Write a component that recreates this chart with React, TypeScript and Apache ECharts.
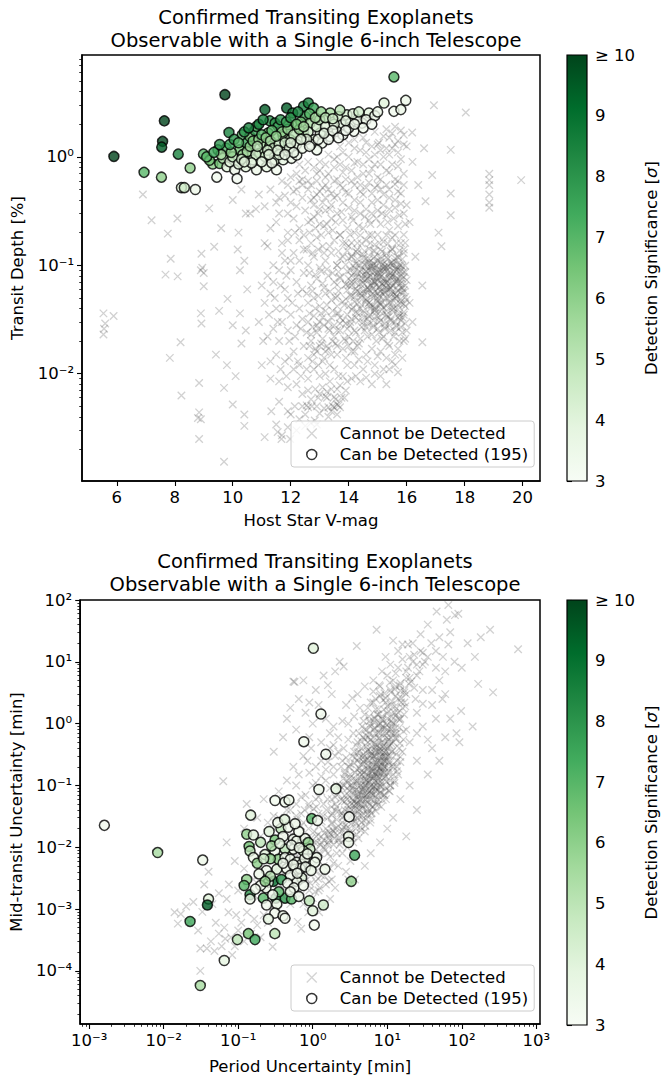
import React, { useEffect, useRef } from 'react';
import * as echarts from 'echarts';

const FONT = 'DejaVu Sans';
const GREENS = ['#f7fcf5', '#e5f5e0', '#c7e9c0', '#a1d99b', '#74c476', '#41ab5d', '#238b45', '#006d2c', '#00441b'];

const TITLE = 'Confirmed Transiting Exoplanets\nObservable with a Single 6-inch Telescope';
const LEG_NO = 'Cannot be Detected';
const LEG_YES = 'Can be Detected (195)';

const topXTicks = [6, 8, 10, 12, 14, 16, 18, 20];
const topYDecades = [-2, -1, 0];
const botXDecades = [-3, -2, -1, 0, 1, 2, 3];
const botYDecades = [-4, -3, -2, -1, 0, 1, 2];

// Top panel: detectable planets [V mag, depth %, significance]
const canTop = [
  [5.90,1.01,10],[6.94,0.72,7],[7.54,0.65,6],[7.64,2.15,10],[7.58,1.39,10],[7.55,1.23,9.5],[8.12,1.06,8.5],
  [8.53,0.79,6],[8.23,0.52,4],[8.33,0.52,4.5],[8.71,0.50,3.5],[9.45,0.65,3.3],[8.99,1.06,7],[9.73,3.75,10],
  [9.87,1.68,8.5],[9.49,1.16,7],[9.31,0.86,6],[9.55,0.87,6.5],[9.78,1.2,7],[9.66,0.97,5],[9.8,0.81,4],
  [10.07,0.76,3.5],[10.15,0.63,3.2],[10.24,1.16,6.5],[10.33,1.6,7],[10.47,1.34,7.5],[10.59,1.54,6.5],
  [10.76,1.75,7.5],[10.82,1.91,7],[10.59,1.01,5],[10.45,0.81,4],[10.7,0.94,4.5],[10.93,1.08,5],
  [11.11,2.73,9.5],[11.28,2.15,8],[11.46,2.05,8],[11.57,1.91,7.5],[11.22,1.66,6.5],[11.05,1.34,5.5],
  [11.28,1.25,5],[11.11,1.01,4.5],[10.82,0.76,3.5],[11.17,0.81,3.7],[11.46,0.94,4.5],[11.51,0.76,3.3],
  [11.86,2.82,9.5],[12.07,2.54,8.5],[11.92,1.98,7],[11.74,1.54,5.5],[11.98,1.44,5],[11.86,1.16,4.5],
  [11.74,0.94,3.8],[12.03,0.97,3.5],[12.21,1.04,3.3],[12.44,2.93,8.5],[12.61,3.14,8.5],[12.79,2.82,7.5],
  [12.5,2.36,7.5],[12.44,1.66,6],[12.67,2.05,5.5],[12.79,1.44,4],[13.02,1.66,3.8],[13.08,1.34,3.3],
  [12.9,1.16,3.4],[13.36,2.54,5.5],[13.65,2.36,4.5],[13.94,2.45,4.2],[13.77,1.98,3.8],[13.6,1.72,3.5],
  [13.36,1.54,3.3],[14.06,2.05,3.5],[14.18,1.72,3.2],[14.46,2.05,3.5],[14.7,2.54,4],[15.22,3.14,4],
  [15.56,2.63,3.3],[15.8,2.73,3.5],[15.97,3.32,3.5],[15.56,5.47,7],
  [9.2,0.93,6.5],[9.6,1.05,5.5],[9.9,0.9,4],[10.0,1.0,5],[10.2,0.86,4],[10.35,1.05,5.5],[10.5,1.12,5.5],
  [10.6,1.25,6],[10.7,1.4,6.5],[10.9,1.45,6],[11.0,1.6,7],[11.15,1.5,6],[11.3,1.4,5.5],[11.4,1.2,4.5],
  [11.6,1.3,4.5],[11.7,1.7,6],[11.8,1.35,4.5],[11.9,1.8,6],[12.1,1.6,5],[12.2,1.3,4],[12.3,1.8,5.5],
  [12.35,2.1,6.5],[12.6,1.7,4.5],[12.7,1.3,3.5],[12.9,1.9,4.5],[13.0,2.2,5],[13.2,1.9,4],[13.3,1.45,3.2],
  [13.5,2.0,4],[13.8,1.6,3.2],[14.0,1.85,3.3],[14.3,2.2,3.5],[14.6,2.2,3.5],[14.9,2.4,3.5],[10.8,1.05,4.5],
  [11.2,1.15,4.5],[11.6,1.05,4],[11.95,1.2,4],[12.4,1.2,3.5],[12.55,1.45,4],[10.3,0.95,4.5],[9.95,1.1,6],
  [10.65,0.88,3.8],[11.0,0.9,3.8],[11.35,0.88,3.5],[12.1,1.1,3.6]
];
const canTopBand = [
  [9.1,1.0,7],[9.35,1.1,7.5],[9.55,1.3,8],[9.9,1.3,7.5],[10.05,1.45,8],[10.2,1.35,7],[10.4,1.7,8],[10.55,1.85,8.5],
  [10.9,2.0,8.5],[11.05,2.2,8.5],[11.35,1.75,7],[11.5,1.55,6],[11.65,2.2,8],[11.85,2.1,7.5],[12.0,2.3,8],
  [12.2,2.0,6.5],[12.25,2.6,8.5],[12.45,1.9,5.5],[12.65,2.5,7],[12.85,2.3,5.5],[13.05,2.6,6],[13.2,2.3,5],
  [13.45,2.25,4.5],[13.7,2.7,5],[13.9,2.15,3.8],[14.15,2.5,4],[14.35,2.6,4.5],[14.5,1.85,3.3],[14.8,2.0,3.2],
  [15.0,2.6,3.5],[10.4,0.9,4],[10.85,1.25,5],[11.25,1.05,4],[11.55,1.15,4],[11.8,1.05,3.5],[12.0,1.35,4],
  [12.35,1.45,4],[12.65,1.25,3.3],[12.95,1.45,3.5],[13.15,1.65,3.8],[13.45,1.75,3.5],[13.65,1.5,3.1],
  [13.9,1.75,3.2],[14.2,2.0,3.3]
];

// Top panel: non-detectable planets [V mag, depth %]
const cannotTop = [
  [5.54,0.036],[5.89,0.034],[5.6,0.029],[5.54,0.023],[5.56,0.026],[8.09,0.27],[7.76,0.196],[7.86,0.115],
  [7.68,0.082],[8.1,0.079],[8.92,0.128],[8.9,0.09],[9.0,0.064],[9.36,0.148],[9.19,0.335],[10.0,0.4],
  [10.17,0.14],[10.25,0.09],[8.9,0.036],[8.92,0.029],[9.53,0.038],[9.82,0.049],[10.25,0.036],[10.0,0.028],
  [8.2,0.0195],[7.83,0.014],[9.42,0.015],[8.23,0.0063],[8.84,0.0082],[9.7,0.0074],[10.0,0.0052],[8.84,0.0044],
  [8.8,0.0039],[8.9,0.0038],[8.84,0.0025],[9.7,0.00154],[10.4,0.0042],[10.4,0.0033],[8.95,0.095],[9.0,0.085],
  [10.5,0.06],[10.4,0.11],[9.6,0.22],[10.3,0.5],[10.45,0.3],[10.2,0.2],[7.2,0.26],[6.9,0.45],[9.8,0.012],
  [10.3,0.019],[10.45,0.025],[10.1,0.0095],
  [11.1,0.0026],[11.68,0.0025],[11.98,0.0025],[11.5,0.0034],[11.55,0.0029],[11.7,0.0027],[11.33,0.0045],
  [10.6,0.3],[10.8,0.33],[11.1,0.35],[11.1,0.16],[11.2,0.15],[11.7,0.16],[10.9,0.45],[11.3,0.5],[11.6,0.42],
  [11.9,0.55],[12.1,0.48],[11.5,0.25],[11.9,0.3],[12.2,0.35],[12.4,0.42],[11.0,0.065],[11.2,0.08],[11.4,0.07],
  [11.1,0.045],[11.3,0.055],[11.5,0.04],[11.8,0.06],[11.9,0.05],[11.6,0.09],[11.8,0.11],[12.0,0.09],[12.1,0.13],
  [12.3,0.11],[12.2,0.07],[12.4,0.06],[11.2,0.022],[11.4,0.026],[11.6,0.02],[11.7,0.03],[11.9,0.025],[12.0,0.035],
  [12.2,0.028],[12.3,0.04],[12.4,0.032],[11.5,0.015],[11.8,0.013],[12.1,0.016],[12.3,0.012],[12.45,0.018],
  [11.0,0.012],[11.3,0.009],[11.6,0.0085],[11.9,0.0075],[12.2,0.008],[12.4,0.0065],[11.6,0.0055],[11.9,0.0045],
  [12.14,0.005],[12.4,0.005],[12.73,0.005],[12.55,0.0051],[12.83,0.0037],[12.7,0.0035],[12.5,0.0042],
  [12.3,0.0038],[12.0,0.0042],
  [13.3,0.0049],[13.5,0.0049],[13.7,0.0049],[13.4,0.0045],[13.6,0.0052],[13.25,0.006],[13.5,0.0061],
  [13.75,0.006],[13.0,0.0065],[13.1,0.0075],[13.4,0.0072],[13.7,0.0078],[13.9,0.007],[12.6,0.009],[12.8,0.011],
  [13.0,0.0095],[13.2,0.01],[13.5,0.011],[13.8,0.0095],[12.6,0.014],[12.9,0.016],[13.1,0.013],[13.3,0.017],
  [13.6,0.015],[13.9,0.014],[12.7,0.02],[12.9,0.024],[13.1,0.021],[13.3,0.026],[13.5,0.022],[13.7,0.025],
  [13.9,0.02],[12.6,0.03],[12.8,0.034],[13.0,0.03],[13.2,0.038],[13.4,0.033],[13.6,0.036],[13.8,0.031],
  [12.6,0.045],[12.8,0.05],[13.0,0.042],[13.2,0.055],[13.4,0.048],[13.6,0.052],[13.8,0.046],[12.7,0.065],
  [12.9,0.075],[13.1,0.068],[13.3,0.08],[13.5,0.07],[13.7,0.078],[13.9,0.066],[12.6,0.1],[12.8,0.12],
  [13.0,0.095],[13.2,0.11],[13.4,0.13],[13.6,0.1],[13.8,0.12],[12.7,0.16],[12.9,0.18],[13.1,0.15],[13.3,0.2],
  [13.5,0.17],[13.7,0.19],[13.9,0.16],[12.6,0.25],[12.8,0.28],[13.0,0.24],[13.2,0.32],[13.4,0.27],[13.6,0.3],
  [13.8,0.26],[12.7,0.4],[12.9,0.45],[13.1,0.38],[13.3,0.5],[13.5,0.42],[13.7,0.55],[13.9,0.47],[12.6,0.6],
  [12.9,0.7],[13.2,0.65],[13.5,0.8],[13.8,0.72],[13.0,0.9],[13.6,1.0],
  [14.1,0.009],[14.4,0.0085],[14.8,0.008],[15.3,0.008],[15.7,0.0103],[14.2,0.012],[14.5,0.011],[14.9,0.012],
  [15.2,0.011],[15.5,0.013],[14.1,0.016],[14.3,0.018],[14.6,0.015],[14.8,0.017],[15.1,0.016],[15.4,0.018],
  [15.7,0.017],[15.9,0.02],[14.0,0.022],[14.2,0.025],[14.4,0.021],[14.6,0.027],[14.8,0.023],[15.0,0.026],
  [15.2,0.022],[15.4,0.028],[15.6,0.024],[15.8,0.027],[16.0,0.025],[14.1,0.032],[14.3,0.036],[14.5,0.03],
  [14.7,0.034],[14.9,0.038],[15.1,0.031],[15.3,0.035],[15.5,0.039],[15.7,0.033],[15.9,0.037],[14.0,0.042],
  [14.2,0.046],[14.4,0.04],[14.6,0.048],[14.8,0.043],[15.0,0.047],[15.2,0.041],[15.4,0.045],[15.6,0.049],
  [15.8,0.044],[16.0,0.048],[14.1,0.052],[14.3,0.058],[14.5,0.055],[14.7,0.06],[14.9,0.053],[15.1,0.057],
  [15.3,0.062],[15.5,0.054],[15.7,0.059],[15.9,0.056],[14.0,0.065],[14.2,0.07],[14.4,0.067],[14.6,0.074],
  [14.8,0.069],[15.0,0.072],[15.2,0.066],[15.4,0.075],[15.6,0.07],[15.8,0.068],[16.0,0.073],[14.1,0.08],
  [14.3,0.085],[14.5,0.082],[14.7,0.09],[14.9,0.086],[15.1,0.083],[15.3,0.088],[15.5,0.081],[15.7,0.092],
  [15.9,0.087],[14.2,0.095],[14.4,0.1],[14.6,0.105],[14.8,0.098],[15.0,0.11],[15.2,0.103],[15.4,0.097],
  [15.6,0.108],[15.8,0.1],[14.1,0.12],[14.3,0.13],[14.5,0.125],[14.7,0.115],[14.9,0.135],[15.1,0.12],
  [15.3,0.128],[15.5,0.14],[15.7,0.118],[15.9,0.13],[14.0,0.15],[14.3,0.16],[14.6,0.17],[14.9,0.155],
  [15.2,0.165],[15.5,0.18],[15.8,0.16],[14.2,0.2],[14.5,0.22],[14.8,0.19],[15.1,0.24],[15.4,0.21],[15.7,0.23],
  [14.1,0.28],[14.4,0.3],[14.7,0.26],[15.0,0.32],[15.3,0.29],[15.6,0.34],[15.9,0.3],[14.2,0.4],[14.5,0.45],
  [14.8,0.38],[15.1,0.5],[15.4,0.42],[15.7,0.48],[14.1,0.6],[14.4,0.55],[14.7,0.7],[15.0,0.65],[15.3,0.75],
  [15.6,0.62],[15.9,0.7],[14.3,0.9],[14.6,1.1],[14.9,0.85],[15.0,1.3],[15.2,1.0],[15.5,1.2],[15.8,0.95],
  [15.4,1.5],[15.7,1.4],[14.8,1.25],[15.05,1.35],
  [14.6,0.06],[14.8,0.065],[15.0,0.055],[15.2,0.075],[15.4,0.06],[15.6,0.08],[14.7,0.045],[14.9,0.07],
  [15.1,0.09],[15.3,0.05],[15.5,0.065],[15.7,0.075],[14.5,0.075],[14.4,0.055],[15.0,0.085],[15.2,0.095],
  [14.6,0.088],[15.8,0.062],[15.5,0.1],[14.9,0.04],[15.1,0.045],[15.35,0.07],[14.75,0.08],[15.65,0.052],
  [15.45,0.085],[14.85,0.1],[15.25,0.058],[15.05,0.063],[14.95,0.078],[15.15,0.068],
  [16.94,3.0],[18.04,2.57],[16.19,1.68],[16.6,1.2],[17.52,1.16],[16.88,0.68],[18.85,0.7],[18.85,0.61],
  [18.85,0.55],[18.85,0.45],[18.85,0.38],[18.85,0.34],[19.95,0.61],[17.52,0.46],[17.52,0.29],[16.65,0.39],
  [17.1,0.2],[17.2,0.15],[16.54,0.065],[16.54,0.0195],[16.2,0.9],[16.4,0.55],[16.1,0.25],[16.3,0.12],
  [16.1,0.045],[16.2,0.03],
  [14.5,1.5],[14.9,1.7],[15.3,1.8],[15.6,1.9],[15.9,1.6],[14.2,1.2],[13.8,1.1],[13.5,0.6],[13.2,0.85],
  [12.8,0.8],[12.5,0.75],[12.3,0.6],[12.0,0.65],[11.7,0.6],[14.0,1.35],[16.0,1.25]
];
const cannotTopCore = [
  [13.55,0.019],[13.85,0.021],[14.15,0.02],[14.35,0.019],[14.65,0.022],[14.95,0.02],[15.15,0.021],[15.35,0.019],
  [15.55,0.022],[15.75,0.02],[15.95,0.021],[13.6,0.025],[13.95,0.026],[14.25,0.024],[14.55,0.025],[14.85,0.027],
  [15.05,0.024],[15.25,0.026],[15.45,0.025],[15.65,0.027],[15.85,0.024],[13.7,0.029],[14.05,0.03],[14.35,0.031],
  [14.65,0.029],[14.85,0.031],[15.05,0.03],[15.25,0.029],[15.45,0.031],[15.6,0.03],[15.8,0.031],[15.95,0.029],
  [13.65,0.036],[13.95,0.035],[14.25,0.037],[14.5,0.036],[14.75,0.035],[14.95,0.037],[15.15,0.036],[15.35,0.034],
  [15.55,0.037],[15.75,0.036],[15.9,0.035],[13.6,0.042],[13.85,0.043],[14.15,0.041],[14.45,0.043],[14.7,0.042],
  [14.9,0.041],[15.1,0.043],[15.3,0.042],[15.5,0.041],[15.7,0.043],[15.95,0.042],[13.55,0.05],[13.9,0.049],
  [14.2,0.051],[14.4,0.05],[14.6,0.049],[14.8,0.051],[15.0,0.05],[15.2,0.049],[15.4,0.051],[15.6,0.05],
  [15.8,0.049],[15.95,0.051],[13.65,0.058],[13.95,0.059],[14.25,0.057],[14.5,0.058],[14.7,0.059],[14.9,0.057],
  [15.1,0.058],[15.3,0.059],[15.5,0.057],[15.7,0.058],[15.9,0.059],[13.6,0.066],[13.9,0.067],[14.1,0.065],
  [14.35,0.066],[14.55,0.067],[14.75,0.065],[14.95,0.066],[15.15,0.067],[15.35,0.065],[15.55,0.066],[15.75,0.067],
  [15.95,0.065],[13.7,0.076],[14.0,0.075],[14.25,0.077],[14.45,0.076],[14.65,0.075],[14.85,0.077],[15.05,0.076],
  [15.25,0.075],[15.45,0.077],[15.65,0.076],[15.85,0.075],[13.65,0.087],[13.95,0.088],[14.2,0.086],[14.4,0.087],
  [14.6,0.088],[14.8,0.086],[15.0,0.087],[15.2,0.088],[15.4,0.086],[15.6,0.087],[15.8,0.088],[15.95,0.086],
  [13.6,0.1],[13.9,0.101],[14.15,0.099],[14.35,0.1],[14.55,0.101],[14.75,0.099],[14.95,0.1],[15.15,0.101],
  [15.35,0.099],[15.55,0.1],[15.75,0.101],[15.95,0.099],[13.7,0.115],[14.0,0.116],[14.3,0.114],[14.6,0.115],
  [14.85,0.116],[15.1,0.114],[15.35,0.115],[15.6,0.116],[15.85,0.114],[13.65,0.135],[13.95,0.136],[14.25,0.134],
  [14.55,0.135],[14.85,0.136],[15.15,0.134],[15.45,0.135],[15.75,0.136],[13.8,0.16],[14.1,0.161],[14.45,0.159],
  [14.75,0.16],[15.05,0.161],[15.35,0.159],[15.65,0.16],[15.95,0.161],[13.7,0.19],[14.05,0.191],[14.4,0.189],
  [14.7,0.19],[15.0,0.191],[15.3,0.189],[15.6,0.19],[15.9,0.191],
  [14.55,0.033],[14.75,0.04],[14.95,0.034],[15.15,0.039],[15.35,0.033],[15.55,0.04],[15.75,0.034],[14.6,0.046],
  [14.8,0.054],[15.0,0.046],[15.2,0.054],[15.4,0.046],[15.6,0.054],[15.8,0.046],[14.65,0.062],[14.85,0.071],
  [15.05,0.062],[15.25,0.071],[15.45,0.062],[15.65,0.071],[15.85,0.062],[14.6,0.081],[14.8,0.093],[15.0,0.081],
  [15.2,0.093],[15.4,0.081],[15.6,0.093],[15.8,0.081],[14.7,0.107],[14.9,0.095],[15.1,0.107],[15.3,0.095],
  [15.5,0.107],[15.7,0.095]
];
const cannotTopDense = [
  [14.05,0.028],[14.25,0.033],[14.45,0.027],[14.65,0.032],[14.85,0.028],[15.05,0.033],[15.25,0.027],[15.45,0.032],
  [15.65,0.028],[15.85,0.033],[14.1,0.039],[14.3,0.044],[14.5,0.038],[14.7,0.045],[14.9,0.039],[15.1,0.044],
  [15.3,0.038],[15.5,0.045],[15.7,0.039],[15.9,0.044],[14.05,0.053],[14.25,0.061],[14.45,0.052],[14.65,0.056],
  [14.85,0.061],[15.05,0.052],[15.25,0.056],[15.45,0.061],[15.65,0.052],[15.85,0.056],[14.1,0.07],[14.3,0.078],
  [14.5,0.069],[14.7,0.079],[14.9,0.071],[15.1,0.078],[15.3,0.069],[15.5,0.079],[15.7,0.071],[15.9,0.078],
  [14.05,0.09],[14.25,0.104],[14.45,0.091],[14.65,0.097],[14.85,0.104],[15.05,0.091],[15.25,0.098],[15.45,0.104],
  [15.65,0.091],[15.85,0.097],[14.1,0.12],[14.3,0.14],[14.5,0.118],[14.7,0.142],[14.9,0.12],[15.1,0.14],
  [15.3,0.118],[15.5,0.142],[15.7,0.12],[15.9,0.14],
  [12.45,0.19],[12.7,0.26],[12.95,0.3],[13.15,0.23],[13.35,0.33],[13.55,0.25],[13.75,0.31],[13.95,0.22],
  [14.15,0.26],[14.35,0.23],[14.55,0.28],[14.75,0.24],[14.95,0.27],[15.15,0.3],[15.35,0.25],[15.55,0.27],
  [15.75,0.29],[15.95,0.24],[12.8,0.42],[13.0,0.48],[13.2,0.55],[13.4,0.46],[13.6,0.62],[13.8,0.52],[14.0,0.46],
  [14.2,0.55],[14.4,0.48],[14.6,0.52],[14.8,0.46],[15.0,0.55],[15.2,0.45],[15.4,0.5],[15.6,0.56],[15.8,0.46],
  [13.9,0.8],[14.2,0.88],[14.5,0.7],[14.8,0.78],[15.1,0.85],[15.4,0.72],[15.7,0.82],[15.3,1.2],[14.9,1.05],
  [15.6,1.3],[12.7,0.023],[12.9,0.028],[13.1,0.033],[13.3,0.03],[13.5,0.028],[13.7,0.033],[13.9,0.029],
  [12.8,0.015],[13.0,0.018],[13.2,0.016],[13.4,0.015],[13.6,0.018],[13.8,0.017],[14.0,0.018],[14.2,0.016]
];
const cannotTopCloud = [
  [12.55,0.011],[12.75,0.013],[12.95,0.012],[13.15,0.014],[13.35,0.012],[12.65,0.018],[12.85,0.017],[13.05,0.019],
  [13.25,0.018],[13.45,0.02],[12.55,0.024],[12.75,0.027],[12.95,0.026],[13.15,0.028],[13.35,0.025],[12.65,0.036],
  [12.85,0.04],[13.05,0.036],[13.25,0.043],[13.45,0.038],[12.55,0.055],[12.75,0.058],[12.95,0.052],[13.15,0.062],
  [13.35,0.057],[12.65,0.085],[12.85,0.082],[13.05,0.088],[13.25,0.092],[13.45,0.085],[12.55,0.14],[12.75,0.13],
  [12.95,0.14],[13.15,0.13],[13.35,0.15],[12.65,0.2],[12.85,0.22],[13.05,0.19],[13.25,0.24],[13.45,0.21],
  [11.3,0.22],[11.6,0.3],[11.9,0.2],[12.1,0.27],[12.3,0.22],[12.5,0.32],[11.5,0.38],[11.8,0.44],[12.0,0.38],
  [12.2,0.5],[12.4,0.55],[12.6,0.5],[12.8,0.36],[13.0,0.33],[13.2,0.42],[13.4,0.36],[13.6,0.44],[13.8,0.38],
  [14.0,0.34],[14.2,0.32],[14.4,0.38],[14.6,0.33],[14.8,0.3],[15.0,0.4],[15.2,0.36],[15.4,0.33],[15.6,0.4],
  [15.8,0.37],[16.0,0.36],[12.2,0.7],[12.4,0.62],[12.7,0.55],[12.9,0.6],[13.1,0.52],[13.3,0.7],[13.5,0.95],
  [13.7,0.85],[13.9,0.62],[14.1,0.75],[14.3,0.65],[14.5,0.85],[14.7,0.58],[14.9,0.52],[15.1,0.62],[15.3,0.55],
  [15.5,0.85],[15.7,0.6],[15.9,0.55],[14.0,1.0],[14.4,1.15],[14.7,0.95],[15.1,1.15],[15.4,1.05],[15.7,1.1],
  [15.9,1.3],[13.3,1.05],[13.7,1.25],[14.2,1.45],[14.6,1.35],[15.2,1.55],[15.5,1.65],[15.8,1.75],[13.0,0.75],
  [12.6,0.9],[12.3,0.85],
  [12.6,0.0049],[12.9,0.005],[13.15,0.0048],[13.45,0.005],[13.65,0.0051],[12.7,0.0058],[12.95,0.006],[13.2,0.0062],
  [13.55,0.0058],[13.85,0.006],[12.6,0.007],[12.85,0.0072],[13.25,0.0068],[13.6,0.0072],[13.95,0.0085],[14.25,0.0095],
  [14.6,0.0092],[14.9,0.01],[15.1,0.0095],[15.4,0.011],[15.6,0.012],[15.85,0.014],[14.35,0.0135],[14.65,0.013],
  [15.0,0.0145],[15.3,0.014],[15.6,0.015],[13.95,0.012],[13.65,0.0095],[13.35,0.0085],[12.35,0.0095],[12.1,0.011],
  [11.85,0.0095],[12.5,0.0033],[12.9,0.0034],[13.3,0.004],[13.6,0.0042],[12.2,0.003],[11.9,0.0032],[13.0,0.0043],
  [10.9,0.03],[11.05,0.02],[11.25,0.035],[11.45,0.05],[11.65,0.065],[11.85,0.08],[12.05,0.045],[12.25,0.055],
  [12.45,0.085],[11.75,0.04],[11.55,0.03],[11.95,0.02],[12.15,0.022],[12.35,0.026],[11.4,0.1],[11.7,0.13],
  [12.0,0.11],[12.3,0.17],[12.45,0.14],[11.9,0.17],[12.15,0.2],[11.3,0.013],[11.65,0.011],[11.95,0.014],[12.25,0.013]
];

// Bottom panel: detectable planets [period unc. min, mid-transit unc. min, significance]
const canBot = [
  [1.02,16.6,4],[1.29,1.43,3.3],[0.76,0.51,3.3],[1.5,0.32,3.3],[1.21,0.086,3.3],[2.05,0.088,3.8],
  [3.09,0.031,3.0],[3.03,0.0149,3.5],[3.03,0.0119,3.5],[3.65,0.0074,7.5],[3.29,0.0028,6],[0.312,0.057,3.3],
  [0.425,0.054,3.3],[0.48,0.058,3.5],[0.147,0.033,4],[0.97,0.029,7],[1.16,0.027,3.3],[0.13,0.0162,6],
  [0.16,0.0158,4],[0.375,0.02,5],[0.312,0.0131,6.5],[0.14,0.0103,6.5],[0.144,0.0087,5],[0.229,0.0076,4],
  [0.16,0.0068,3.5],[0.4,0.0149,3.3],[0.55,0.0135,3.3],[0.61,0.0126,3.5],[0.79,0.0138,3.3],[0.87,0.0119,6],
  [0.92,0.0093,4.5],[0.75,0.0087,4.5],[0.55,0.0093,3.3],[0.425,0.0093,5],[0.31,0.0087,3.3],[0.345,0.0064,6],
  [0.425,0.0068,3.3],[0.5,0.0064,3.3],[0.61,0.0057,3.5],[0.71,0.0053,3.3],[1.13,0.0068,3.5],[1.07,0.0057,3.3],
  [1.46,0.0044,3.5],[0.33,0.0044,4],[0.45,0.0045,3.3],[0.58,0.0044,3.3],[0.71,0.0032,4],[0.61,0.0028,3.5],
  [0.5,0.0035,3.3],[0.24,0.0042,3.3],[0.19,0.0037,3.5],[0.13,0.003,6],[0.296,0.0028,9],[0.38,0.003,8],
  [0.254,0.0027,3.3],[0.236,0.0022,3.5],[0.144,0.0017,8],[0.144,0.00145,3.5],[0.217,0.0015,7],[0.32,0.0015,8],
  [0.425,0.0015,8],[0.52,0.00145,7],[0.24,0.00116,3.3],[0.33,0.0012,3.5],[0.9,0.00136,5],[1.0,0.00094,4],
  [1.39,0.00116,4.5],[0.31,0.00086,3.3],[0.4,0.00078,3.5],[0.254,0.00069,3.8],[0.425,0.00071,3.3],
  [1.05,0.00055,3.3],[0.31,0.0004,5],[0.137,0.0004,6.5],[0.168,0.00032,7.5],[0.0975,0.00032,5],
  [0.065,0.000147,3.8],[0.031,0.000058,5.5],[0.04,0.00145,4],[0.0386,0.00116,9.5],[0.0226,0.00063,7.5],
  [0.0334,0.0062,3.5],[0.0083,0.0082,5.5],[0.0016,0.0226,3.3],[0.2,0.0024,3.3],[0.27,0.0065,6],
  [0.68,0.0045,3.3],[0.78,0.0065,3.5]
];
const canBotCluster = [
  [0.2,0.012,5],[0.26,0.018,4],[0.34,0.025,3.5],[0.47,0.021,3.3],[0.65,0.018,3.3],[0.58,0.024,3.5],[0.42,0.028,4],
  [0.28,0.0105,5.5],[0.36,0.0115,3.8],[0.52,0.0108,3.3],[0.66,0.0098,3.5],[0.85,0.0078,3.3],[0.18,0.0055,6],
  [0.22,0.0065,4.5],[0.4,0.0055,3.3],[0.55,0.0052,3.5],[0.8,0.0048,3.3],[0.95,0.0042,3.5],[0.27,0.0034,5],
  [0.46,0.0026,3.3],[0.56,0.0022,3.3],[0.35,0.0019,7],[0.5,0.0019,3.5],[0.65,0.0016,3.3],[0.75,0.0024,3.3],
  [0.12,0.0024,7],[0.17,0.0021,3.3],[0.29,0.0017,3.3],[0.23,0.0028,6],[0.62,0.0038,3.3]
];

// Bottom panel: non-detectable planets [period unc. min, mid-transit unc. min]
const cannotBot = [
  [0.014,8.9e-4],[0.0155,5.8e-4],[0.017,8.3e-4],[0.022,6.2e-4],[0.029,4.5e-4],[0.031,2.3e-4],[0.031,1e-4],
  [0.043,3e-4],[0.038,2.3e-4],[0.048,2.1e-4],[0.067,3.3e-4],[0.06,2.5e-4],[0.083,1.8e-4],[0.07,1.45e-3],
  [0.074,8.9e-4],[0.094,8e-4],[0.131,8.9e-4],[0.146,1.45e-3],[0.164,6.9e-4],[0.29,2.45e-4],[0.02,1.1e-3],
  [0.025,1.3e-3],[0.033,9e-4],[0.045,1.2e-3],[0.05,6e-4],[0.055,4e-4],[0.065,5e-4],[0.08,3.5e-4],[0.09,2.5e-4],
  [0.1,4.5e-4],[0.11,6e-4],[0.12,3e-4],[0.15,4e-4],[0.18,5.5e-4],[0.2,3.5e-4],[0.22,8e-4],[0.25,6e-4],
  [0.063,0.117],[0.04,0.004],[0.09,0.006],[0.12,0.0045],[0.16,0.003],[0.1,0.002],[0.13,0.0022],[0.035,0.0025],
  [0.055,0.0018],[0.075,0.0025],[0.18,0.0015],[0.25,0.0018],[0.28,0.0012],[0.07,0.012],[0.15,0.01],[0.2,0.015],
  [0.25,0.025],[0.12,0.02],[0.18,0.03],[0.22,0.06],[0.13,0.05],
  [0.3,0.0015],[0.35,0.001],[0.4,0.0022],[0.45,0.0014],[0.5,0.003],[0.55,0.0018],[0.63,6.2e-4],[0.7,4.8e-4],
  [0.87,8.9e-4],[0.6,0.0025],[0.65,0.004],[0.75,0.0012],[0.8,0.0032],[0.9,0.002],[1.0,0.0015],[1.1,0.0028],
  [1.22,8.9e-4],[1.37,1.1e-3],[1.2,0.002],[1.3,0.0035],[1.5,0.0025],[1.71,1.45e-3],[1.8,0.003],[2.0,0.0022],
  [0.3,0.004],[0.35,0.006],[0.4,0.005],[0.45,0.008],[0.5,0.006],[0.55,0.01],[0.6,0.007],[0.65,0.012],[0.7,0.009],
  [0.75,0.015],[0.8,0.006],[0.85,0.011],[0.9,0.008],[0.95,0.014],[1.0,0.005],[1.05,0.018],[1.1,0.009],
  [1.15,0.012],[1.2,0.006],[1.3,0.015],[1.4,0.01],[1.5,0.02],[1.6,0.008],[1.7,0.013],[1.8,0.025],[1.9,0.011],
  [2.0,0.017],[0.3,0.02],[0.35,0.03],[0.4,0.015],[0.45,0.04],[0.5,0.025],[0.6,0.05],[0.7,0.035],[0.8,0.07],
  [0.9,0.045],[1.0,0.1],[1.1,0.06],[1.2,0.035],[1.3,0.08],[1.4,0.05],[1.5,0.12],[1.6,0.03],[1.7,0.09],
  [1.8,0.06],[1.9,0.15],[2.0,0.04],[0.35,0.08],[0.45,0.12],[0.55,0.2],[0.65,0.15],[0.75,0.3],[0.85,0.25],
  [0.95,0.4],[1.1,0.2],[1.3,0.5],[1.5,0.3],[1.7,0.7],[1.9,0.45],[0.57,4.7],[0.55,4.8],[0.45,1.2],[0.6,0.8],
  [0.8,1.5],[1.0,1.0],[1.2,2.0],[1.5,1.2],[1.8,3.0],[0.9,0.6],[1.3,0.012],[0.55,0.014],[0.7,0.022],
  [0.95,0.03],[1.2,0.022],[1.45,0.017],[1.75,0.016],
  [2.2,0.005],[2.5,0.008],[2.8,0.004],[3.0,0.003],[3.7,0.003],[3.2,0.006],[2.4,0.012],[2.6,0.015],[2.9,0.01],
  [3.2,0.018],[3.5,0.012],[3.8,0.02],[4.1,0.014],[4.5,0.025],[5.0,0.018],[2.2,0.022],[2.5,0.03],[2.8,0.02],
  [3.1,0.035],[3.4,0.025],[3.7,0.04],[4.0,0.03],[4.4,0.05],[4.8,0.035],[5.3,0.06],[5.8,0.04],[6.3,0.07],
  [7.0,0.05],[2.1,0.045],[2.4,0.06],[2.7,0.04],[3.0,0.07],[3.3,0.05],[3.6,0.08],[4.0,0.06],[4.4,0.1],
  [4.8,0.07],[5.3,0.12],[5.8,0.08],[6.4,0.14],[7.0,0.09],[7.7,0.16],[8.5,0.11],[9.3,0.2],[2.3,0.1],[2.6,0.13],
  [2.9,0.09],[3.2,0.15],[3.5,0.11],[3.9,0.18],[4.3,0.12],[4.7,0.22],[5.2,0.15],[5.7,0.25],[6.2,0.17],[6.8,0.3],
  [7.5,0.2],[8.2,0.35],[9.0,0.25],[10.0,0.4],[11.0,0.3],[12.0,0.5],[2.4,0.2],[2.8,0.28],[3.2,0.22],[3.6,0.35],
  [4.0,0.25],[4.5,0.4],[5.0,0.3],[5.5,0.5],[6.0,0.35],[6.7,0.6],[7.4,0.45],[8.1,0.7],[9.0,0.5],[10.0,0.8],
  [11.0,0.6],[12.0,1.0],[13.5,0.7],[15.0,1.2],[2.6,0.4],[3.0,0.55],[3.5,0.7],[4.0,0.5],[4.6,0.9],[5.2,0.65],
  [5.8,1.1],[6.5,0.8],[7.3,1.4],[8.1,1.0],[9.0,1.7],[10.0,1.2],[11.2,2.0],[12.5,1.5],[14.0,2.5],[16.0,1.8],
  [18.0,3.0],[3.0,1.0],[3.6,1.3],[4.3,1.8],[5.0,1.4],[6.0,2.2],[7.0,1.7],[8.0,2.8],[9.5,2.2],[11.0,3.5],
  [13.0,2.8],[15.0,4.5],[17.0,3.5],[20.0,5.5],[4.0,3.0],[5.0,4.0],[6.5,5.0],[8.0,4.0],[10.0,6.0],[12.0,5.0],
  [14.0,8.0],[18.0,7.0],[22.0,10.0],[2.6,8.4],[3.9,18],[7.2,33],[12,22],[16,19],[19,19],[39,20],[66,19],
  [56,12],[66,83],[46,65],[63,48],[81,57],[240,33],[570,16],[166,4.4],[263,3.2],[98,1.6],[140,0.9],[85,0.7],
  [93,0.5],[25,6],[30,9],[35,12],[28,15],[45,8],[50,5],[20,12],[24,2.5],[30,3.5],[40,2],[60,3],[70,1.2],
  [100,8],[150,12],[25,1.5],[18,0.8],[20,0.5],[30,0.9],[40,0.4],[50,0.25],[60,0.6],[25,0.25],[35,0.15],
  [20,0.1],[15,0.06],[25,0.04],[12,0.03],[18,0.015],[10,0.02],[8,0.012],[6,0.008],[5,0.005],[14,0.15],
  [16,0.35],[11,0.1],[9,0.07],
  [3.5,0.03],[4.2,0.04],[5.0,0.05],[5.5,0.035],[6.0,0.06],[6.5,0.045],[7.0,0.08],[7.5,0.06],[8.0,0.1],
  [8.5,0.075],[9.0,0.13],[9.5,0.09],[10.0,0.16],[11.0,0.12],[12.0,0.2],[4.5,0.07],[5.0,0.09],[5.5,0.11],
  [6.0,0.1],[6.5,0.13],[7.0,0.15],[7.5,0.12],[8.0,0.18],[8.5,0.22],[9.0,0.16],[9.5,0.28],[10.5,0.22],
  [11.5,0.35],[3.8,0.05],[4.2,0.08],[4.6,0.06],[5.1,0.1],[5.6,0.075],[6.1,0.13],[6.6,0.095],[7.1,0.2],
  [7.6,0.14],[8.1,0.25],[8.6,0.17],[9.1,0.3],[3.3,0.04],[3.9,0.065],[4.9,0.13],[5.4,0.19],[6.9,0.26],
  [7.9,0.4],[5.9,0.3],[6.4,0.22],[7.2,0.35],[4.3,0.16],[3.4,0.09],[2.9,0.06],[2.5,0.025],[4.7,0.045],
  [5.2,0.028],[6.2,0.036],[7.3,0.055],[8.3,0.045],[9.6,0.06],[10.8,0.08],[12.5,0.12],[13.5,0.25],[14.5,0.4],
  [13.0,0.6],[11.5,0.9],[10.5,0.55],[9.2,0.85],[8.5,1.3],[7.8,0.95],[6.8,1.2],[6.0,0.9],[5.3,0.8],[4.7,0.6],
  [4.2,0.35],[3.7,0.28],[3.1,0.2],[2.7,0.16]
];
const cannotBotCore = [
  [1.6,0.016],[2.0,0.02],[2.4,0.018],[2.8,0.023],[3.3,0.017],[3.8,0.024],[4.4,0.019],[5.1,0.022],[5.9,0.025],
  [1.8,0.024],[2.6,0.021],[1.8,0.033],[2.2,0.038],[2.6,0.032],[3.0,0.04],[3.5,0.034],[4.0,0.038],[4.6,0.032],
  [5.3,0.04],[6.1,0.035],[7.0,0.039],[2.4,0.036],[3.2,0.03],[2.0,0.05],[2.5,0.056],[2.9,0.048],[3.4,0.058],
  [3.9,0.052],[4.5,0.047],[5.1,0.058],[5.8,0.05],[6.7,0.056],[7.6,0.049],[8.7,0.058],[3.7,0.045],[2.2,0.072],
  [2.7,0.068],[3.1,0.082],[3.6,0.074],[4.1,0.066],[4.7,0.08],[5.4,0.072],[6.1,0.084],[7.0,0.068],[8.0,0.078],
  [9.2,0.07],[10.5,0.082],[2.4,0.095],[2.9,0.11],[3.4,0.1],[3.9,0.115],[4.5,0.092],[5.1,0.105],[5.8,0.118],
  [6.6,0.098],[7.5,0.11],[8.5,0.095],[9.7,0.115],[11.0,0.1],[12.5,0.11],[2.7,0.15],[3.2,0.135],[3.7,0.16],
  [4.3,0.14],[4.9,0.165],[5.6,0.145],[6.4,0.17],[7.2,0.14],[8.2,0.155],[9.3,0.135],[10.5,0.165],[12.0,0.15],
  [13.5,0.17],[3.0,0.2],[3.6,0.23],[4.2,0.19],[4.8,0.24],[5.5,0.21],[6.3,0.185],[7.2,0.23],[8.2,0.2],[9.3,0.245],
  [10.5,0.19],[12.0,0.22],[13.5,0.2],[15.0,0.24],[3.4,0.3],[4.0,0.34],[4.7,0.28],[5.4,0.36],[6.2,0.31],[7.0,0.37],
  [8.0,0.29],[9.1,0.34],[10.3,0.3],[11.7,0.36],[13.2,0.32],[15.0,0.29],[3.8,0.45],[4.5,0.52],[5.2,0.42],[6.0,0.55],
  [6.9,0.46],[7.8,0.58],[8.9,0.44],[10.1,0.52],[11.5,0.47],[13.0,0.57],[14.8,0.48],[16.5,0.55],[4.2,0.7],[5.0,0.8],
  [5.8,0.68],[6.7,0.85],[7.6,0.72],[8.7,0.88],[9.9,0.7],[11.2,0.82],[12.8,0.68],[14.5,0.86],[16.5,0.75],[4.8,1.1],
  [5.7,1.3],[6.6,1.05],[7.6,1.4],[8.7,1.15],[9.9,1.45],[11.3,1.1],[12.9,1.35],[14.7,1.15],[16.8,1.4],[5.5,1.8],
  [6.5,2.2],[7.6,1.7],[8.8,2.4],[10.1,1.9],[11.6,2.3],[13.3,1.75],[15.3,2.2],[17.5,1.9],[6.5,3.3],[7.8,4.2],
  [9.2,3.1],[10.8,4.6],[12.6,3.6],[14.7,4.1],[17.0,3.2],[19.5,4.4],[23,3.8],[8.5,7],[11,9],[13,6.5],[16,11],
  [19,8],[23,13],[27,7],[32,10],[9.5,12],[14,15],
  [3.3,0.062],[3.8,0.085],[4.3,0.058],[4.8,0.09],[5.3,0.065],[5.9,0.095],[6.5,0.07],[7.2,0.1],[8.0,0.075],
  [4.0,0.12],[4.6,0.15],[5.2,0.125],[5.8,0.16],[6.4,0.13],[7.1,0.17],[7.8,0.135],[8.6,0.18],[9.5,0.14],[4.4,0.22],
  [5.0,0.26],[5.6,0.21],[6.3,0.27],[7.0,0.22],[7.8,0.28],[8.6,0.23],[9.5,0.3],[10.5,0.24],[5.5,0.38],[6.2,0.33],
  [7.0,0.41],[7.8,0.34],[8.7,0.42],[9.6,0.36],[10.6,0.44],[3.6,0.048],[4.1,0.05],[4.7,0.042],[5.5,0.052],
  [6.3,0.045],[2.8,0.033]
];
const cannotBotDense = [
  [3.1,0.045],[3.6,0.055],[4.1,0.072],[4.6,0.085],[5.1,0.068],[5.6,0.088],[6.1,0.075],[6.6,0.11],[7.1,0.085],
  [7.6,0.125],[8.1,0.095],[3.5,0.13],[4.0,0.1],[4.5,0.17],[5.0,0.115],[5.5,0.18],[6.0,0.14],[6.5,0.2],[7.0,0.16],
  [7.5,0.25],[8.0,0.19],[8.5,0.29],[9.0,0.2],[9.5,0.33],[10,0.25],[4.2,0.28],[4.8,0.32],[5.3,0.26],[5.9,0.4],
  [6.5,0.3],[7.1,0.45],[7.7,0.36],[8.4,0.5],[9.1,0.4],[9.9,0.6],[10.8,0.45],[11.8,0.7],[5.0,0.55],[5.6,0.6],
  [6.2,0.5],[6.9,0.7],[7.6,0.58],[8.3,0.8],[9.1,0.65],[9.9,0.95],[10.8,0.75],[11.8,1.05],[12.9,0.85],[14.0,1.2],
  [6.0,1.0],[6.8,1.25],[7.6,0.95],[8.5,1.2],[9.4,1.0],[10.4,1.6],[11.5,1.3],[12.7,1.9],[14.0,1.5],[15.5,2.6],
  [17,2.2],[7.0,2.5],[8.2,3.0],[9.6,2.6],[11.2,3.2],[13,4],[15,3.4],[18,5.5],[21,4.8],[25,9],[30,14],
  [2.1,0.028],[2.5,0.035],[2.9,0.027],[3.3,0.034],[3.7,0.026],[4.2,0.033],[4.8,0.027],[5.4,0.034],[6.0,0.028],
  [1.6,0.012],[1.9,0.018],[2.2,0.013],[2.5,0.019],[2.8,0.014],[3.1,0.02],[3.4,0.015],[3.9,0.016],[4.4,0.021],
  [2.0,0.065],[2.3,0.085],[2.6,0.1],[2.9,0.12],[3.2,0.1],[2.7,0.055],
  [0.33,0.0028],[0.44,0.0033],[0.53,0.0025],[0.67,0.0031],[0.78,0.0028],[0.93,0.0026],[1.08,0.0019],[1.18,0.0031],
  [1.45,0.0034],[1.65,0.0028],[0.37,0.009],[0.48,0.013],[0.63,0.0095],[0.73,0.0105],[0.83,0.014],[0.97,0.0105],
  [1.12,0.015],[1.27,0.011],[1.47,0.009],[1.65,0.014],[1.85,0.019],[0.6,0.032],[0.75,0.025],[0.88,0.05],
  [1.03,0.042],[1.2,0.065],[1.38,0.032],[1.58,0.06],[1.78,0.045],[2.1,0.1],[1.3,0.14],[1.6,0.24],[1.9,0.2],
  [2.2,0.35],[2.5,0.25]
];
const cannotBotCloud = [
  [0.25,0.004],[0.32,0.007],[0.38,0.0035],[0.42,0.011],[0.48,0.0045],[0.52,0.016],[0.58,0.008],[0.62,0.028],
  [0.68,0.005],[0.72,0.013],[0.78,0.04],[0.82,0.009],[0.88,0.02],[0.92,0.006],[0.98,0.03],[1.05,0.012],[1.12,0.045],
  [1.18,0.016],[1.25,0.008],[1.32,0.026],[1.42,0.013],[1.52,0.04],[1.62,0.018],[1.72,0.007],[1.85,0.035],
  [1.95,0.014],[0.6,0.0018],[0.85,0.0025],[1.1,0.004],[1.4,0.005],[1.7,0.0045],[2.1,0.008],[2.3,0.011],
  [0.35,0.0025],[0.5,0.0012],[0.7,0.0017],[0.28,0.011],[0.3,0.032],[0.4,0.06],[0.5,0.04],[0.6,0.1],[0.7,0.065],
  [0.9,0.16],[1.1,0.11],[1.3,0.25],[1.5,0.18],[1.7,0.4],[2.0,0.3],[2.2,0.6],[2.5,1.1],[1.9,0.9],[2.8,2.0],
  [3.4,2.6],[0.75,0.006],[1.15,0.0065],[1.6,0.011],[2.2,0.014],[0.95,0.0035],[1.25,0.0022],[1.9,0.0055],
  [0.3,0.35],[0.4,0.6],[0.5,1.8],[0.65,2.5],[0.75,5],[1.1,3.5],[1.4,6],[1.6,4.2],[2.0,7],[2.3,10],[0.9,2.2],
  [1.25,1.3],[25,0.7],[35,0.55],[45,1.2],[55,2.5],[30,2.1],[40,3.5],[60,7],[80,10],[120,20],[180,25],[70,30],
  [50,25],[35,40],[90,60],[45,15],[22,20],[28,28]
];

const SUPS: Record<string, string> = { '-': '⁻', '0': '⁰', '1': '¹', '2': '²', '3': '³', '4': '⁴', '5': '⁵', '6': '⁶', '7': '⁷', '8': '⁸', '9': '⁹' };
const pow10Label = (v: number) => '10' + String(Math.round(v)).split('').map((c) => SUPS[c] || c).join('');

function minorLog(lo: number, hi: number) {
  const out: number[] = [];
  for (let n = Math.floor(lo); n <= Math.ceil(hi); n++) {
    for (let k = 2; k <= 9; k++) {
      const v = n + Math.log10(k);
      if (v > lo && v < hi) out.push(v);
    }
  }
  return out;
}

const TOP_X = [4.8, 20.6];
const TOP_Y = [-2.99, 0.94];
const BOT_X = [-3.12, 3.05];
const BOT_Y = [-4.86, 2.0];

const FS = 16.5;
const CROSS = 'path://M0,0L10,10M10,0L0,10';
const crossStyle = { color: 'rgba(0,0,0,0)', borderColor: 'rgba(70,70,70,0.31)', borderWidth: 1.3 };
const circleStyle = { borderColor: '#000', borderWidth: 1.5 };

const txt = { fontFamily: FONT, color: '#000' };

function mainAxis(gridIndex: number, range: number[], ticks: number[], fmt: (v: number) => string, name: string, nameGap: number, isY: boolean) {
  return {
    type: 'value', gridIndex, min: range[0], max: range[1],
    position: isY ? 'left' : 'bottom',
    name, nameLocation: 'middle', nameGap, nameRotate: isY ? 90 : 0,
    nameTextStyle: { ...txt, fontSize: FS },
    axisLine: { show: true, onZero: false, lineStyle: { color: '#000', width: 1.5 } },
    axisTick: { show: true, length: 5, customValues: ticks, lineStyle: { color: '#000', width: 1.1 } },
    axisLabel: { show: true, customValues: ticks, formatter: fmt, margin: 8, ...txt, fontSize: FS },
    splitLine: { show: false },
  };
}

function minorAxis(gridIndex: number, range: number[], isY: boolean) {
  return {
    type: 'value', gridIndex, min: range[0], max: range[1],
    position: isY ? 'left' : 'bottom',
    axisLine: { show: false, onZero: false },
    axisTick: { show: true, length: 2.8, customValues: minorLog(range[0], range[1]), lineStyle: { color: '#000', width: 0.8 } },
    axisLabel: { show: false },
    splitLine: { show: false },
  };
}

function cbAxisY(gridIndex: number) {
  return {
    type: 'value', gridIndex, min: 3, max: 10, interval: 1, position: 'right',
    name: 'Detection Significance [{i|σ}]', nameLocation: 'middle', nameGap: 56, nameRotate: 90,
    nameTextStyle: { ...txt, fontSize: FS, rich: { i: { ...txt, fontSize: FS, fontStyle: 'italic' } } },
    axisLine: { show: false },
    axisTick: { show: true, length: 5, lineStyle: { color: '#000', width: 1.1 } },
    axisLabel: { show: true, margin: 8, ...txt, fontSize: FS, formatter: (v: number) => (v === 10 ? '≥ 10' : String(v)) },
    splitLine: { show: false },
  };
}

function cbAxisX(gridIndex: number) {
  return { type: 'value', gridIndex, min: 0, max: 1, show: false };
}

function colorbarSeries(xi: number, yi: number) {
  return {
    type: 'custom', xAxisIndex: xi, yAxisIndex: yi, silent: true, z: 3,
    data: [[0, 3, 1, 10]],
    renderItem: (_p: any, api: any) => {
      const a = api.coord([0, 3]);
      const b = api.coord([1, 10]);
      return {
        type: 'rect',
        shape: { x: a[0], y: b[1], width: b[0] - a[0], height: a[1] - b[1] },
        style: {
          fill: new echarts.graphic.LinearGradient(0, 1, 0, 0, GREENS.map((c, i) => ({ offset: i / (GREENS.length - 1), color: c }))),
          stroke: '#000', lineWidth: 1.2,
        },
      };
    },
  };
}

function legendAt(left: number, top: number) {
  return {
    left, top, orient: 'vertical', selectedMode: false,
    itemWidth: 14, itemHeight: 10, itemGap: 4,
    padding: [4, 6, 4, 15],
    backgroundColor: 'rgba(255,255,255,0.8)', borderColor: '#cccccc', borderWidth: 1, borderRadius: 3,
    symbolKeepAspect: true,
    textStyle: { ...txt, fontSize: FS, padding: [0, 0, 0, 16] },
    data: [
      { name: LEG_NO, icon: CROSS, itemStyle: { color: 'rgba(0,0,0,0)', borderColor: 'rgba(70,70,70,0.3)', borderWidth: 1.3 } },
      { name: LEG_YES, icon: 'circle', itemStyle: { color: '#ffffff', borderColor: '#000', borderWidth: 1.5 } },
    ],
  };
}

const toLog2 = (rows: number[][], logX: boolean) => rows.map((d) => [logX ? Math.log10(d[0]) : d[0], Math.log10(d[1])]);
const toLog3 = (rows: number[][], logX: boolean) => rows.map((d) => [logX ? Math.log10(d[0]) : d[0], Math.log10(d[1]), d[2]]);

export default function App() {
  const ref = useRef<HTMLDivElement>(null);
  useEffect(() => {
    document.body.style.margin = '0';
    const chart = echarts.init(ref.current!, undefined, { renderer: 'svg' });
    const titleStyle = { ...txt, fontSize: 19.5, fontWeight: 'normal', lineHeight: 23 };
    const option = {
      animation: false,
      backgroundColor: '#ffffff',
      title: [
        { text: TITLE, left: 311, top: 1, textAlign: 'center', textStyle: titleStyle },
        { text: TITLE, left: 310, top: 545, textAlign: 'center', textStyle: titleStyle },
      ],
      grid: [
        { left: 82, top: 55, width: 458, height: 426, show: true, borderColor: '#000', borderWidth: 1.5, backgroundColor: 'transparent' },
        { left: 80, top: 600, width: 460, height: 425, show: true, borderColor: '#000', borderWidth: 1.5, backgroundColor: 'transparent' },
        { left: 567, top: 55, width: 22, height: 426 },
        { left: 567, top: 600, width: 22, height: 425 },
      ],
      xAxis: [
        mainAxis(0, TOP_X, topXTicks, (v) => String(v), 'Host Star V-mag', 31, false),
        mainAxis(1, BOT_X, botXDecades, pow10Label, 'Period Uncertainty [min]', 34, false),
        minorAxis(1, BOT_X, false),
        cbAxisX(2),
        cbAxisX(3),
      ],
      yAxis: [
        mainAxis(0, TOP_Y, topYDecades, pow10Label, 'Transit Depth [%]', 56, true),
        minorAxis(0, TOP_Y, true),
        mainAxis(1, BOT_Y, botYDecades, pow10Label, 'Mid-transit Uncertainty [min]', 54, true),
        minorAxis(1, BOT_Y, true),
        cbAxisY(2),
        cbAxisY(3),
      ],
      visualMap: {
        type: 'continuous', show: false, min: 3, max: 10, dimension: 2, seriesIndex: [1, 3],
        inRange: { color: GREENS },
      },
      legend: [legendAt(291, 421), legendAt(291, 965)],
      series: [
        {
          name: LEG_NO, type: 'scatter', xAxisIndex: 0, yAxisIndex: 0, silent: true, z: 2,
          symbol: CROSS, symbolSize: 7.5, itemStyle: crossStyle,
          data: toLog2([...cannotTop, ...cannotTopCore, ...cannotTopDense, ...cannotTopCloud], false),
        },
        {
          name: LEG_YES, type: 'scatter', xAxisIndex: 0, yAxisIndex: 0, silent: true, z: 3,
          symbol: 'circle', symbolSize: 10, itemStyle: circleStyle,
          data: toLog3([...canTop, ...canTopBand], false),
        },
        {
          name: LEG_NO, type: 'scatter', xAxisIndex: 1, yAxisIndex: 2, silent: true, z: 2,
          symbol: CROSS, symbolSize: 7.5, itemStyle: crossStyle,
          data: toLog2([...cannotBot, ...cannotBotCore, ...cannotBotDense, ...cannotBotCloud], true),
        },
        {
          name: LEG_YES, type: 'scatter', xAxisIndex: 1, yAxisIndex: 2, silent: true, z: 3,
          symbol: 'circle', symbolSize: 10, itemStyle: circleStyle,
          data: toLog3([...canBot, ...canBotCluster], true),
        },
        colorbarSeries(3, 4),
        colorbarSeries(4, 5),
      ],
    };
    chart.setOption(option as any);
    return () => chart.dispose();
  }, []);
  return <div ref={ref} style={{ width: 661, height: 1076 }} />;
}
